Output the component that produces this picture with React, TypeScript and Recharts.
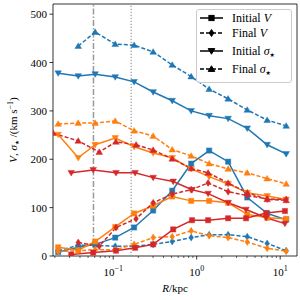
import React from "react";
import {
    LineChart,
    Line,
    XAxis,
    YAxis,
    ReferenceLine,
    ReferenceArea,
    Legend,
} from "recharts";

// radial bins (kpc)
const R = [0.0219, 0.0381, 0.0608, 0.1057, 0.178, 0.301, 0.509, 0.859, 1.41, 2.38, 4.03, 6.98, 11.8];
const R_RED_INIT = [0.0314, 0.0576, 0.108, 0.183, 0.301, 0.523, 0.88, 1.37, 2.38, 3.9, 6.8, 11.4];
const R_RED_FINAL = [0.0191, 0.0381, 0.068, 0.108, 0.188, 0.301, 0.509, 0.859, 1.37, 2.38, 4.03, 6.98, 11.8];

const blueInitV = [8, 18, 24, 38, 59, 94, 135, 191, 218, 195, 121, 88, 75];
const blueFinalV = [11, 22, 22, 20, 20, 24, 30, 38, 44, 44, 40, 26, 11];
const blueInitS = [378, 372, 376, 370, 360, 339, 321, 300, 290, 284, 264, 230, 211];
const blueFinalS = [null, 434, 463, 438, 436, 422, 395, 371, 345, 325, 302, 281, 269];

const orangeInitV = [18, 12, 30, 60, 88, 104, 123, 114, 114, 110, 86, 79, 77];
const orangeFinalV = [9, 11, 13, 13, 24, 38, 40, 52, 42, 38, 29, 16, 10];
const orangeInitS = [251, 203, 230, 244, 226, 213, 203, 180, 164, 149, 131, 124, 117];
const orangeFinalS = [273, 275, 275, 279, 259, 248, 220, 207, 191, 180, 172, 160, 149];

const redInitV = [3, 7, 11, 17, 24, 55, 74, 74, 78, 78, 89, 93];
const redInitS = [172, 178, 172, 172, 162, 154, 137, 129, 110, 96, 79, 67];
const redFinalV = [null, 28, 20, 59, 77, 110, 128, 137, 151, 133, 125, 118, 117];
const redFinalS = [254, 238, 215, 236, 230, 219, 201, 181, 172, 151, 131, 117, 115];

const X_MAJOR = [0.1, 1, 10];
const X_TICKS = [
    0.02, 0.03, 0.04, 0.05, 0.06, 0.07, 0.08, 0.09,
    0.1, 0.2, 0.3, 0.4, 0.5, 0.6, 0.7, 0.8, 0.9,
    1, 2, 3, 4, 5, 6, 7, 8, 9, 10,
];
const Y_TICKS = [0, 100, 200, 300, 400, 500];
const X_DOMAIN = [0.019, 15.9];
const Y_DOMAIN = [0, 521];
const R_CORE = 0.058;
const R_HALF = 0.164;

const BLUE = "#1f77b4";
const ORANGE = "#ff7f0e";
const RED = "#d62728";
const FONT = "'Liberation Serif', 'DejaVu Serif', serif";
const STAR_FONT = "'DejaVu Sans', sans-serif";

type Shape = "square" | "diamond" | "down" | "up";

const toPoints = (r: number[], v: (number | null)[]) =>
    r.map((x, i) => ({ r: x, v: v[i] })).filter((p) => p.v != null);

const SERIES: { id: string; color: string; shape: Shape; dashed: boolean; data: { r: number; v: number | null }[] }[] = [
    { id: "bIV", color: BLUE, shape: "square", dashed: false, data: toPoints(R, blueInitV) },
    { id: "bFV", color: BLUE, shape: "diamond", dashed: true, data: toPoints(R, blueFinalV) },
    { id: "bIS", color: BLUE, shape: "down", dashed: false, data: toPoints(R, blueInitS) },
    { id: "bFS", color: BLUE, shape: "up", dashed: true, data: toPoints(R, blueFinalS) },
    { id: "oIV", color: ORANGE, shape: "square", dashed: false, data: toPoints(R, orangeInitV) },
    { id: "oFV", color: ORANGE, shape: "diamond", dashed: true, data: toPoints(R, orangeFinalV) },
    { id: "oIS", color: ORANGE, shape: "down", dashed: false, data: toPoints(R, orangeInitS) },
    { id: "oFS", color: ORANGE, shape: "up", dashed: true, data: toPoints(R, orangeFinalS) },
    { id: "rIV", color: RED, shape: "square", dashed: false, data: toPoints(R_RED_INIT, redInitV) },
    { id: "rFV", color: RED, shape: "diamond", dashed: true, data: toPoints(R_RED_FINAL, redFinalV) },
    { id: "rIS", color: RED, shape: "down", dashed: false, data: toPoints(R_RED_INIT, redInitS) },
    { id: "rFS", color: RED, shape: "up", dashed: true, data: toPoints(R_RED_FINAL, redFinalS) },
];

function MarkerShape({ cx, cy, shape, color, edge }: { cx: number; cy: number; shape: Shape; color: string; edge: number }) {
    const common = { fill: color, stroke: color, strokeOpacity: edge, strokeWidth: 1 };
    if (shape === "square") {
        return <rect x={cx - 2.6} y={cy - 2.6} width={5.2} height={5.2} {...common} />;
    }
    let pts = "";
    if (shape === "diamond") pts = `${cx},${cy - 3.5} ${cx + 2.3},${cy} ${cx},${cy + 3.5} ${cx - 2.3},${cy}`;
    if (shape === "down") pts = `${cx - 3.3},${cy - 2.4} ${cx + 3.3},${cy - 2.4} ${cx},${cy + 3.2}`;
    if (shape === "up") pts = `${cx - 3.3},${cy + 2.4} ${cx + 3.3},${cy + 2.4} ${cx},${cy - 3.2}`;
    return <polygon points={pts} {...common} />;
}

function XTick({ x, y, payload }: any) {
    const v = payload.value;
    const major = X_MAJOR.includes(v);
    const exp = Math.round(Math.log10(v));
    return (
        <g>
            <line x1={x} x2={x} y1={y} y2={y + (major ? 3.5 : 2)} stroke="#000" strokeWidth={major ? 0.8 : 0.6} />
            {major && (
                <text x={x} y={y + 20} textAnchor="middle" fontFamily={FONT} fontSize={11} fill="#000">
                    10
                    <tspan dy={-5} fontSize={8}>
                        {exp < 0 ? `\u2212${-exp}` : `${exp}`}
                    </tspan>
                </text>
            )}
        </g>
    );
}

function YTick({ x, y, payload }: any) {
    return (
        <g>
            <line x1={x - 3.5} x2={x} y1={y} y2={y} stroke="#000" strokeWidth={0.8} />
            <text x={x - 6} y={y + 4} textAnchor="end" fontFamily={FONT} fontSize={11} fill="#000">
                {payload.value}
            </text>
        </g>
    );
}

const Star = ({ size }: { size: number }) => (
    <tspan fontFamily={STAR_FONT} fontSize={size} dy={2}>★</tspan>
);

const YLabel = () => (
    <text transform="translate(17,130) rotate(-90)" textAnchor="middle" fontFamily={FONT} fontSize={11} fill="#000">
        <tspan fontStyle="italic">V</tspan>
        <tspan>, </tspan>
        <tspan fontStyle="italic">σ</tspan>
        <Star size={5.5} />
        <tspan dy={-2}> /(km s</tspan>
        <tspan fontSize={8} dy={-4}>−1</tspan>
        <tspan dy={4}>)</tspan>
    </text>
);

const XLabel = () => (
    <text x={175} y={292} textAnchor="middle" fontFamily={FONT} fontSize={11} fill="#000">
        <tspan fontStyle="italic">R</tspan>/kpc
    </text>
);

const LEGEND_ROWS: { shape: Shape; dashed: boolean; label: React.ReactNode }[] = [
    { shape: "square", dashed: false, label: <>Initial <tspan fontStyle="italic">V</tspan></> },
    { shape: "diamond", dashed: true, label: <>Final <tspan fontStyle="italic">V</tspan></> },
    { shape: "down", dashed: false, label: <>Initial <tspan fontStyle="italic">σ</tspan><Star size={6} /></> },
    { shape: "up", dashed: true, label: <>Final <tspan fontStyle="italic">σ</tspan><Star size={6} /></> },
];
const LEGEND_Y = [9, 24, 42, 60];

function LegendBox() {
    return (
        <svg width={96} height={74} style={{ display: "block" }}>
            <rect x={0.5} y={0.5} width={95} height={73} rx={2.5} fill="#fff" fillOpacity={0.8} stroke="#ccc" strokeWidth={1} />
            {LEGEND_ROWS.map((row, i) => (
                <g key={i}>
                    <line x1={4} x2={27} y1={LEGEND_Y[i]} y2={LEGEND_Y[i]} stroke="#000" strokeWidth={1.5}
                        strokeDasharray={row.dashed ? "4 2" : undefined} />
                    <MarkerShape cx={15.5} cy={LEGEND_Y[i]} shape={row.shape} color="#000" edge={1} />
                    <text x={36} y={LEGEND_Y[i] + 4} fontFamily={FONT} fontSize={12} fill="#000">
                        {row.label}
                    </text>
                </g>
            ))}
        </svg>
    );
}

export default function App() {
    return (
        <div style={{ position: "absolute", left: 0, top: 0, width: 300, height: 300, background: "#fff" }}>
            <LineChart width={300} height={300} margin={{ top: 4, right: 3, bottom: 0, left: 0 }}>
                <XAxis
                    dataKey="r"
                    type="number"
                    scale="log"
                    domain={X_DOMAIN}
                    ticks={X_TICKS}
                    interval={0}
                    allowDataOverflow
                    height={44}
                    tickSize={0}
                    tickMargin={0}
                    tickLine={false}
                    axisLine={false}
                    tick={<XTick />}
                    label={<XLabel />}
                />
                <YAxis
                    type="number"
                    domain={Y_DOMAIN}
                    ticks={Y_TICKS}
                    interval={0}
                    allowDataOverflow
                    width={53}
                    tickSize={0}
                    tickMargin={0}
                    tickLine={false}
                    axisLine={false}
                    tick={<YTick />}
                    label={<YLabel />}
                />
                <ReferenceLine x={R_CORE} stroke="#999" strokeWidth={1.5} strokeDasharray="6 2 1.5 2" />
                <ReferenceLine x={R_HALF} stroke="#999" strokeWidth={1.2} strokeDasharray="1.2 1.8" />
                {SERIES.map((s) => (
                    <Line
                        key={s.id}
                        data={s.data}
                        dataKey="v"
                        type="linear"
                        stroke={s.color}
                        strokeWidth={1.5}
                        strokeDasharray={s.dashed ? "4 2" : undefined}
                        isAnimationActive={false}
                        dot={(p: any) => (
                            <MarkerShape key={`${s.id}-${p.index}`} cx={p.cx} cy={p.cy} shape={s.shape} color={s.color} edge={0.45} />
                        )}
                        activeDot={false}
                    />
                ))}
                <ReferenceArea
                    x1={X_DOMAIN[0]}
                    x2={X_DOMAIN[1]}
                    y1={Y_DOMAIN[0]}
                    y2={Y_DOMAIN[1]}
                    fill="none"
                    fillOpacity={0}
                    stroke="#000"
                    strokeWidth={0.8}
                />
                <Legend
                    layout="horizontal"
                    verticalAlign="middle"
                    align="center"
                    wrapperStyle={{ left: 196, top: 9, width: 96, height: 74 }}
                    content={() => <LegendBox />}
                />
            </LineChart>
        </div>
    );
}
